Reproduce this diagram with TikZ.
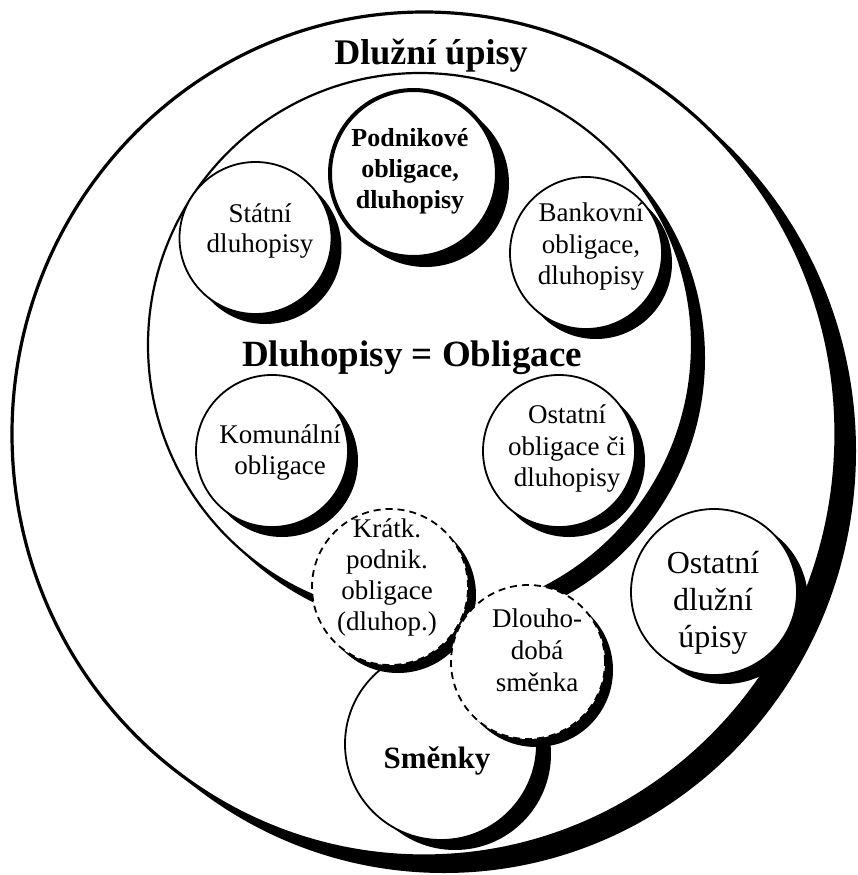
\documentclass[tikz,border=0pt]{standalone}
\usepackage{fontspec}
\setmainfont{Liberation Serif}
\usetikzlibrary{shadows}
\begin{document}
\begin{tikzpicture}[x=1pt,y=-1pt,
  sh/.style 2 args={drop shadow={shadow xshift=#1pt, shadow yshift=-#2pt, opacity=1, fill=black}},
  ring/.style={draw=black, fill=white, line width=1.8pt},
  dring/.style={draw=black, fill=white, line width=1.8pt, dash pattern=on 7pt off 5pt},
  txt/.style={font=\fontsize{27}{31}\selectfont, anchor=base, inner sep=0pt},
  btxt/.style={font=\fontsize{26}{31}\selectfont\bfseries, anchor=base, inner sep=0pt},
  big/.style={font=\fontsize{32}{37}\selectfont, anchor=base, inner sep=0pt},
  head/.style={font=\fontsize{37}{42}\selectfont\bfseries, anchor=base, inner sep=0pt}
]
\useasboundingbox (0,0) rectangle (857,875);
\clip (0,0) rectangle (857,875);

% outer ellipse
\path[ring, line width=3.2pt, sh={20}{17}] (424,434) ellipse (412pt and 422pt);
% inner big circle
\path[ring, line width=2.2pt, sh={13}{13}] (420,345) circle (272pt);

% small circles
\path[ring, sh={10}{10}] (255.5,238) circle (76pt);
\path[ring, line width=4pt, sh={12}{10}] (413.5,173.5) circle (83.5pt);
\path[ring, sh={10}{10}] (586,253) circle (76pt);
\path[ring, sh={10}{10}] (272,451) circle (76pt);
\path[ring, sh={10}{10}] (559,451) circle (76pt);
\path[ring, sh={11}{9}] (714,592) circle (83pt);
% Smenky
\path[ring, sh={14}{10}] (441,744) circle (96pt);
% dashed circles
\path[dring, sh={8}{8}] (390,587) circle (78pt);
\path[dring, sh={8}{8}] (528,662) circle (77pt);

% texts
\node[head, font=\fontsize{36}{42}\selectfont\bfseries] (title) at (431,64) {Dlužní úpisy};
\node[head] (dlob) at (412,366) {Dluhopisy = Obligace};

\node[btxt] (p1) at (410,146) {Podnikové};
\node[btxt] (p2) at (410,177) {obligace,};
\node[btxt] (p3) at (410,208) {dluhopisy};

\node[txt] (s1) at (260,222) {Státní};
\node[txt] (s2) at (260,252) {dluhopisy};

\node[txt] (b1) at (591,221) {Bankovní};
\node[txt] (b2) at (591,253) {obligace,};
\node[txt] (b3) at (591,284) {dluhopisy};

\node[txt] (k1) at (280,443) {Komunální};
\node[txt] (k2) at (280,474) {obligace};

\node[txt] (o1) at (567,423) {Ostatní};
\node[txt] (o2) at (567,455) {obligace či};
\node[txt] (o3) at (567,486) {dluhopisy};

\node[txt] (kr1) at (387,537) {Krátk.};
\node[txt] (kr2) at (387,568) {podnik.};
\node[txt] (kr3) at (387,599) {obligace};
\node[txt] (kr4) at (387,630) {(dluhop.)};

\node[txt] (d1) at (537,627) {Dlouho-};
\node[txt] (d2) at (537,659) {dobá};
\node[txt] (d3) at (537,691) {směnka};

\node[btxt, font=\fontsize{31}{36}\selectfont\bfseries] (sm) at (437,768) {Směnky};

\node[big] (u1) at (713,573) {Ostatní};
\node[big] (u2) at (713,610) {dlužní};
\node[big] (u3) at (713,647) {úpisy};
\end{tikzpicture}
\end{document}
